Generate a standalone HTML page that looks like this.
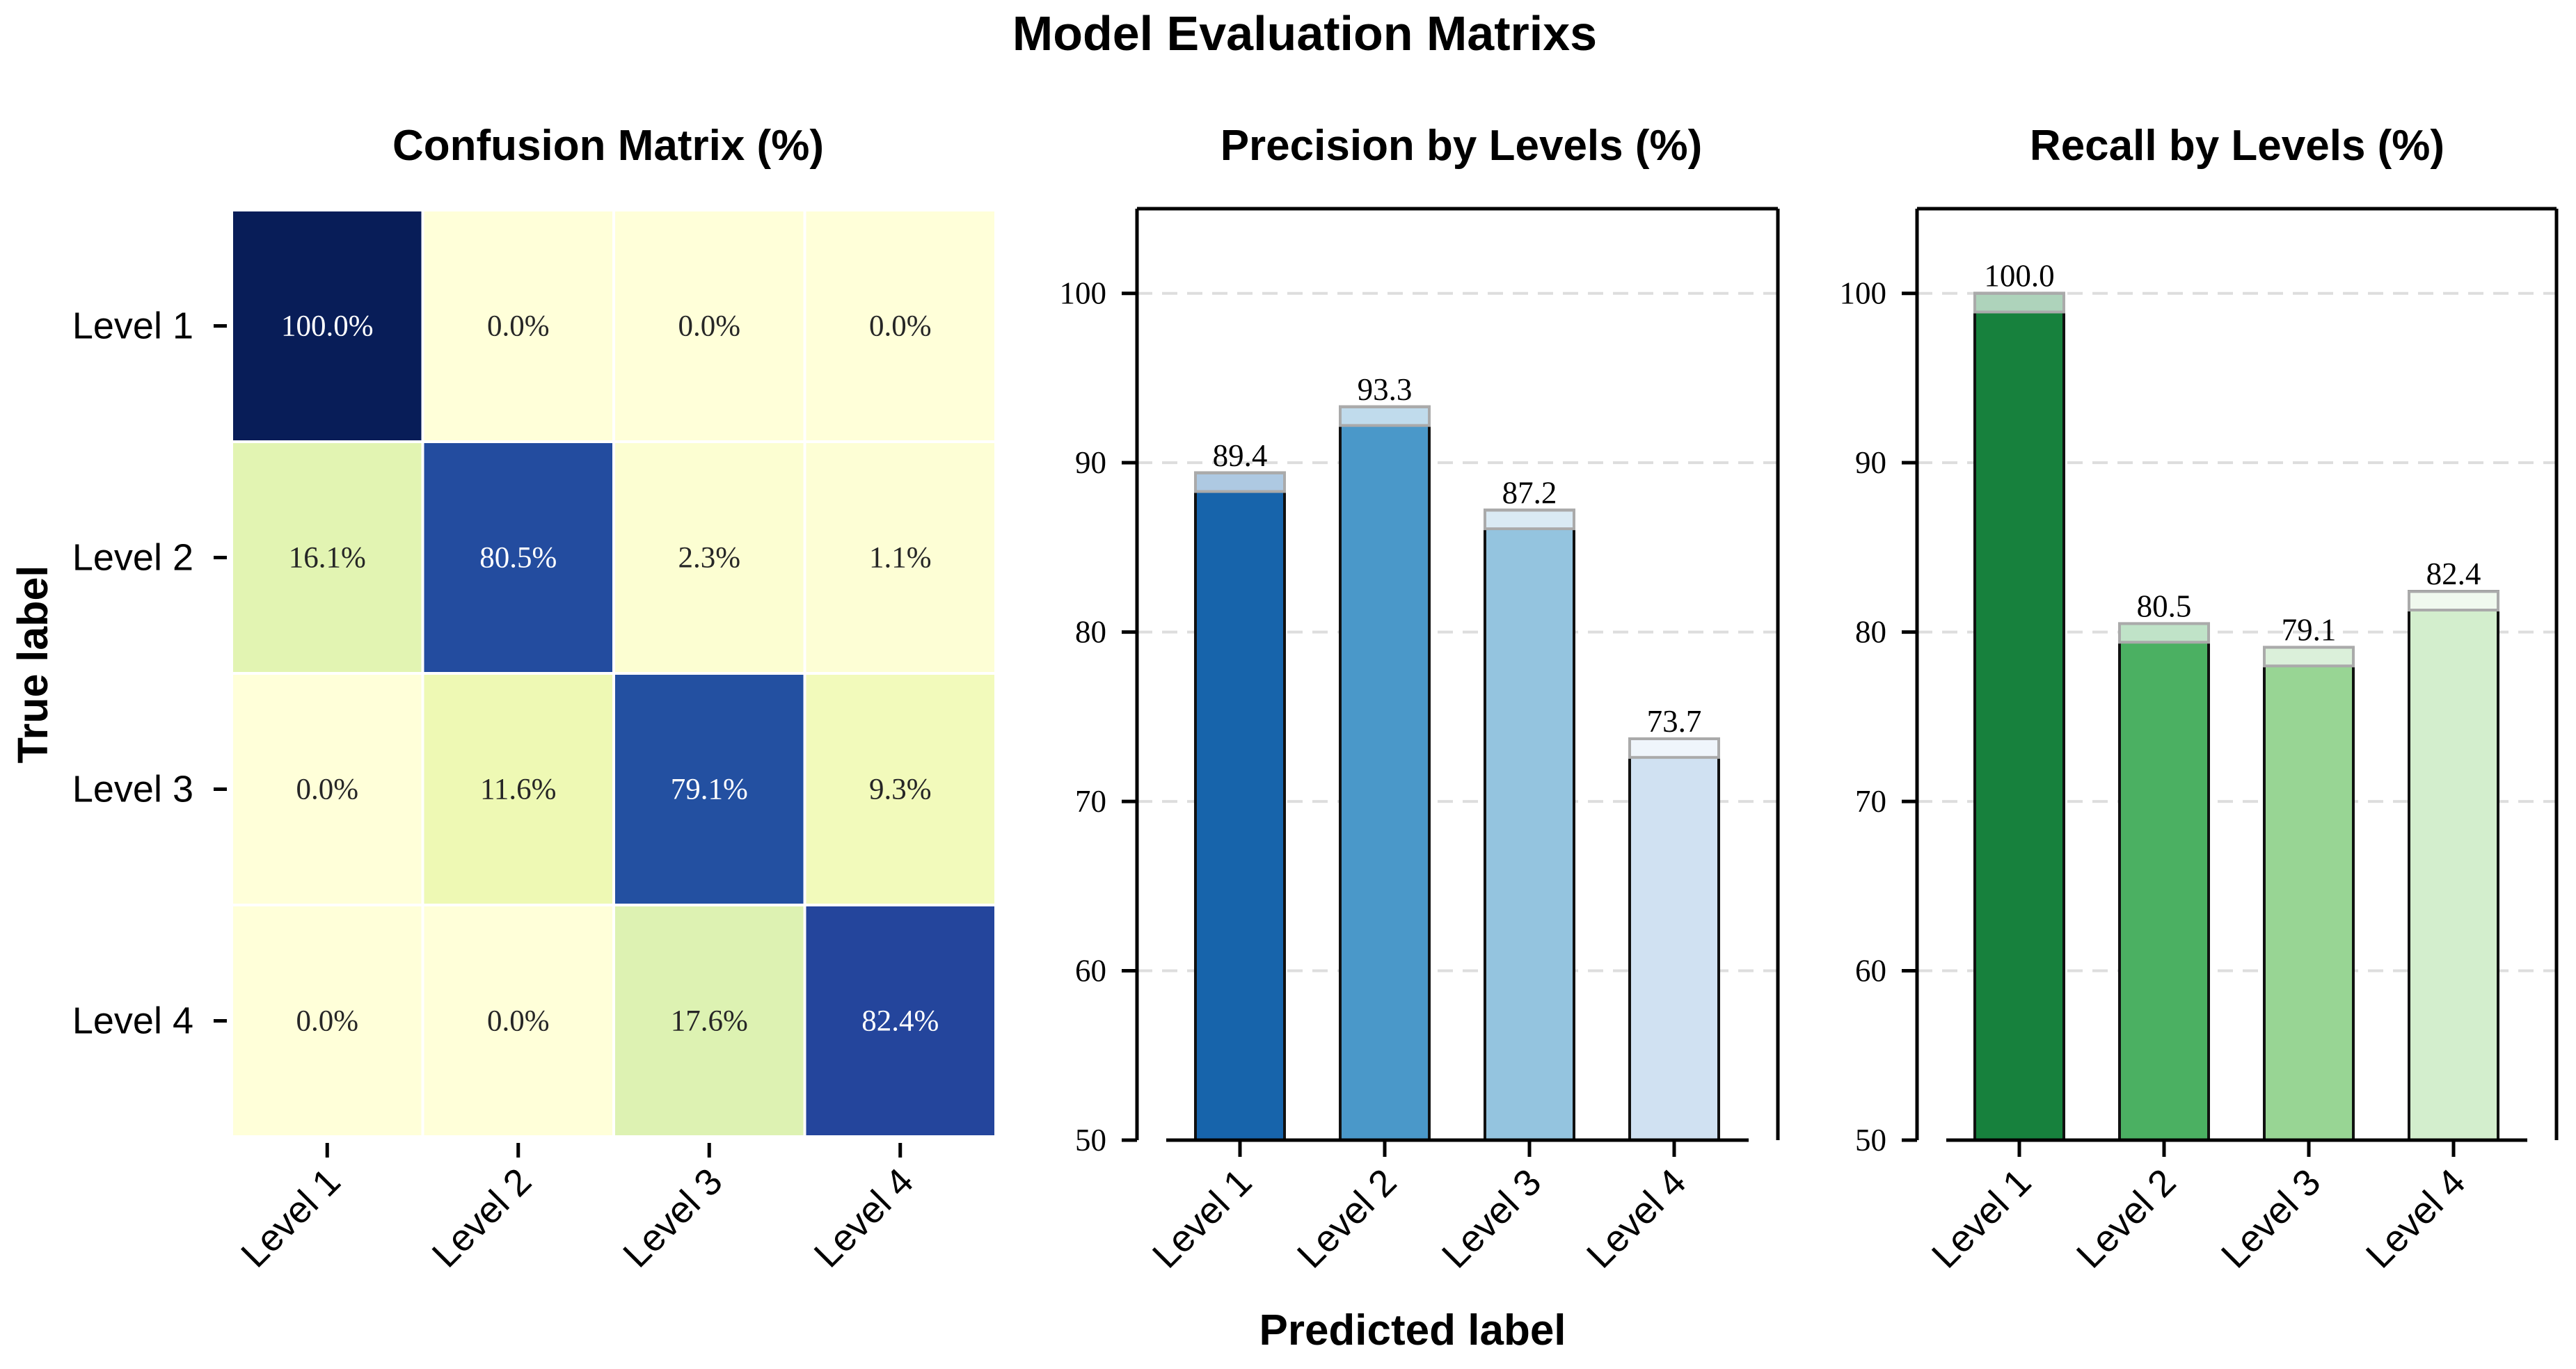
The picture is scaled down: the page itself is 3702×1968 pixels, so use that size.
<!DOCTYPE html>
<html><head><meta charset="utf-8"><style>
html,body{margin:0;padding:0;background:#fff;}
svg{display:block;}
</style></head><body>
<svg id="fig" xmlns="http://www.w3.org/2000/svg" width="3702" height="1968" viewBox="0 0 3702 1968">
<rect width="3702" height="1968" fill="#fff"/>
<text x="1875" y="72" text-anchor="middle" font-family="Liberation Sans, sans-serif" font-weight="bold" font-size="70">Model Evaluation Matrixs</text>
<text x="874" y="230" text-anchor="middle" font-family="Liberation Sans, sans-serif" font-weight="bold" font-size="62">Confusion Matrix (%)</text>
<text x="2100" y="230" text-anchor="middle" font-family="Liberation Sans, sans-serif" font-weight="bold" font-size="62">Precision by Levels (%)</text>
<text x="3215" y="230" text-anchor="middle" font-family="Liberation Sans, sans-serif" font-weight="bold" font-size="62">Recall by Levels (%)</text>
<text transform="translate(68,955) rotate(-90)" text-anchor="middle" font-family="Liberation Sans, sans-serif" font-weight="bold" font-size="61">True label</text>
<text x="2030" y="1933" text-anchor="middle" font-family="Liberation Sans, sans-serif" font-weight="bold" font-size="62">Predicted label</text>
<g id="heat"></g><g id="prec"></g><g id="rec"></g>
</svg>
<script>
const labels = ["Level 1","Level 2","Level 3","Level 4"];
const cmRow1 = [100.0, 0.0, 0.0, 0.0];
const cmRow2 = [16.1, 80.5, 2.3, 1.1];
const cmRow3 = [0.0, 11.6, 79.1, 9.3];
const cmRow4 = [0.0, 0.0, 17.6, 82.4];
const precision = [89.4, 93.3, 87.2, 73.7];
const recall = [100.0, 80.5, 79.1, 82.4];
const yTicks = [50, 60, 70, 80, 90, 100];
const blues = ["#1764ab","#4a98c9","#94c4df","#d0e1f2"];
const greens = ["#17813d","#4bb062","#98d594","#d3eecd"];

const NS = "http://www.w3.org/2000/svg";
function mk(parent, tag, attrs, text){
  const e = document.createElementNS(NS, tag);
  for (const k in attrs) e.setAttribute(k, attrs[k]);
  if (text !== undefined) e.textContent = text;
  parent.appendChild(e);
  return e;
}
const stops = [[0,[255,255,217]],[0.125,[237,248,177]],[0.25,[199,233,180]],[0.375,[127,205,187]],[0.5,[65,182,196]],[0.625,[29,145,192]],[0.75,[34,94,168]],[0.875,[37,52,148]],[1,[8,29,88]]];
function ylgnbu(t){
  t = Math.max(0, Math.min(1, t));
  for (let i=0;i<stops.length-1;i++){
    const a=stops[i], b=stops[i+1];
    if (t<=b[0]){ const f=(t-a[0])/(b[0]-a[0]);
      return "rgb("+a[1].map((v,j)=>Math.round(v+(b[1][j]-v)*f)).join(",")+")"; }
  }
  return "rgb(8,29,88)";
}
// Heatmap
const heat = document.getElementById("heat");
const rows = [cmRow1, cmRow2, cmRow3, cmRow4];
const hx0 = 333, hy0 = 302, cw = 274.5, ch = 333;
function hx(j){ return hx0 + j*cw; }
function hy(i){ return hy0 + i*ch; }
rows.forEach((row,i)=>{
  row.forEach((v,j)=>{
    const r = mk(heat,"rect",{x:hx(j),y:hy(i),width:cw,height:ch,fill:ylgnbu(v/100),stroke:"#fff","stroke-width":4});
    
    
    const t = mk(heat,"text",{x:hx(j)+cw/2,y:hy(i)+ch/2+14,"text-anchor":"middle","font-family":"Liberation Serif, serif","font-size":43,fill:v>50?"#fff":"#262626"}, v.toFixed(1)+"%");
    
    
  });
});
labels.forEach((l,i)=>{
  const cy = hy(i)+ch/2;
  mk(heat,"line",{x1:307,x2:326,y1:cy,y2:cy,stroke:"#000","stroke-width":5});
  const t = mk(heat,"text",{x:278,y:cy+18,"text-anchor":"end","font-family":"Liberation Sans, sans-serif","font-size":54}, l);
  
  
  const cx = hx(i)+cw/2;
  mk(heat,"line",{x1:cx,x2:cx,y1:1643,y2:1664,stroke:"#000","stroke-width":5});
  const tx = mk(heat,"text",{x:cx+22,y:1702,"text-anchor":"end","font-family":"Liberation Sans, sans-serif","font-size":54,transform:"rotate(-45 "+(cx+22)+" 1702)"}, l);
  
  
});
// Bar charts
function barChart(g, x0, x1, centers, vals, colors, name){
  const yTop = 300, yBot = 1639;
  const y = v => yBot - (v-50)/(105-50)*(yBot-yTop);
  const bw = 128;
  yTicks.forEach(v=>{
    if (v>50) mk(g,"line",{x1:x0,x2:x1,y1:y(v),y2:y(v),stroke:"#ddd","stroke-width":4,"stroke-dasharray":"22,14"});
    mk(g,"line",{x1:x0-22,x2:x0,y1:y(v),y2:y(v),stroke:"#000","stroke-width":5});
    const t = mk(g,"text",{x:x0-44,y:y(v)+15,"text-anchor":"end","font-family":"Liberation Serif, serif","font-size":45}, v);
    
    
  });
  vals.forEach((v,i)=>{
    const cx = centers[i];
    const b = mk(g,"rect",{x:cx-bw/2,y:y(v),width:bw,height:yBot-y(v),fill:colors[i],stroke:"#111","stroke-width":4});
    
    
    mk(g,"rect",{x:cx-bw/2,y:y(v),width:bw,height:y(v-1.1)-y(v),fill:"rgba(255,255,255,0.65)",stroke:"#aaa","stroke-width":4});
    const t = mk(g,"text",{x:cx,y:y(v)-10,"text-anchor":"middle","font-family":"Liberation Serif, serif","font-size":45}, v.toFixed(1));
    
    
    mk(g,"line",{x1:cx,x2:cx,y1:yBot,y2:yBot+24,stroke:"#000","stroke-width":5});
    const tx = mk(g,"text",{x:cx+20,y:yBot+64,"text-anchor":"end","font-family":"Liberation Sans, sans-serif","font-size":54,transform:"rotate(-45 "+(cx+20)+" "+(yBot+64)+")"}, labels[i]);
    
    
  });
  mk(g,"line",{x1:x0,x2:x1,y1:yTop,y2:yTop,stroke:"#000","stroke-width":5});
  mk(g,"line",{x1:x0,x2:x0,y1:yTop,y2:yBot,stroke:"#000","stroke-width":5});
  mk(g,"line",{x1:x1,x2:x1,y1:yTop,y2:yBot,stroke:"#000","stroke-width":5});
  mk(g,"line",{x1:x0+42,x2:x1-42,y1:yBot,y2:yBot,stroke:"#000","stroke-width":5});
}
barChart(document.getElementById("prec"), 1634, 2555, [1782,1990,2198,2406], precision, blues, "precision");
barChart(document.getElementById("rec"), 2755, 3674, [2902,3110,3318,3526], recall, greens, "recall");
</script>
</body></html>
